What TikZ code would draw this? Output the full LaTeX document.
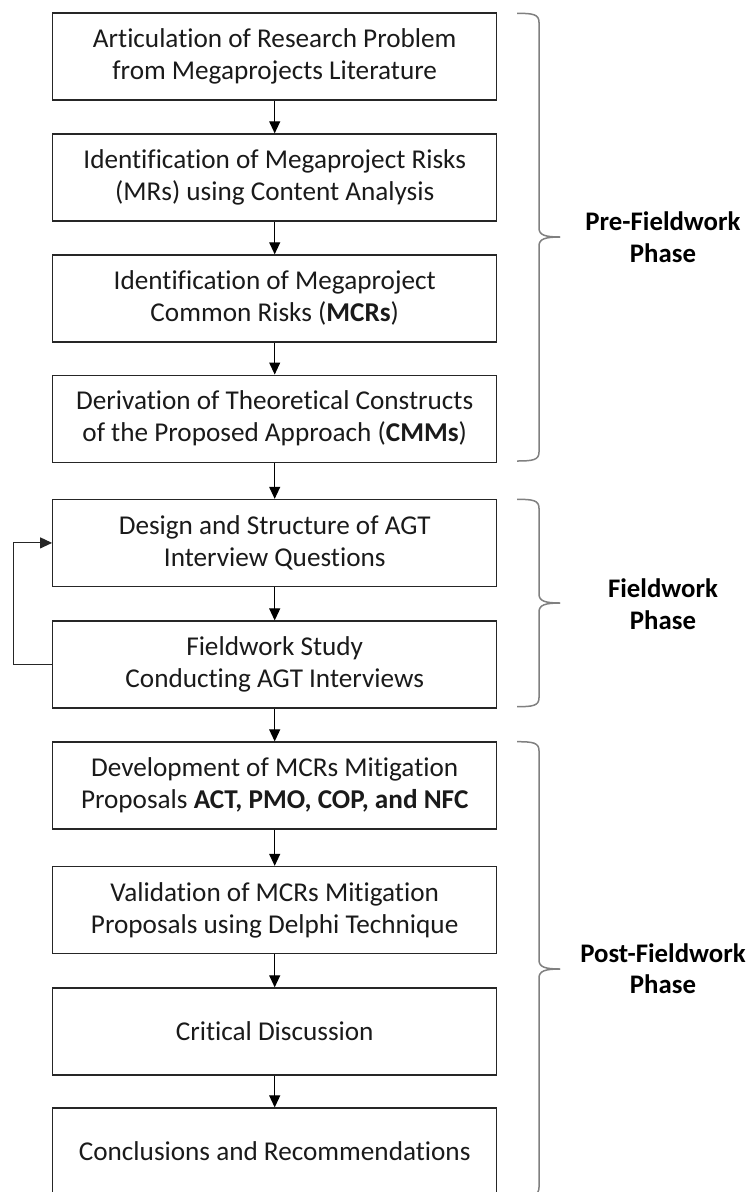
\documentclass[tikz,border=0pt]{standalone}
\usepackage{fontspec}
\setmainfont{Carlito}[Ligatures=NoCommon]
\usetikzlibrary{arrows.meta}
\definecolor{boxline}{HTML}{262626}
\definecolor{braceline}{HTML}{808080}
\definecolor{txt}{HTML}{1A1A1A}
\tikzset{
  stepbox/.style={draw=boxline, line width=1.2pt, minimum width=444pt,
    minimum height=87pt, inner sep=0pt, align=center, text=txt,
    font=\fontsize{27.2}{32}\selectfont},
  flow/.style={draw=black, line width=1.1pt,
    -{Triangle[length=12pt,width=11pt]}},
  phasebrace/.style={draw=braceline, line width=1.5pt},
  phaselabel/.style={align=center, text=black,
    font=\fontsize{26.8}{31.5}\selectfont\bfseries}
}
\begin{document}
\begin{tikzpicture}[x=1pt,y=-1pt]
\useasboundingbox (0,0) rectangle (750,1192);
\clip (0,0) rectangle (750,1192);

% process steps
\node[stepbox] (b1)  at (274.7,56.4)   {Articulation of Research Problem\\from Megaprojects Literature};
\node[stepbox] (b2)  at (274.7,177.4)  {Identification of Megaproject Risks\\(MRs) using Content Analysis};
\node[stepbox] (b3)  at (274.7,298.4)  {Identification of Megaproject\\Common Risks (\textbf{MCRs})};
\node[stepbox] (b4)  at (274.7,418.6)  {Derivation of Theoretical Constructs\\of the Proposed Approach (\textbf{CMMs})};
\node[stepbox] (b5)  at (274.7,542.9)  {Design and Structure of AGT\\Interview Questions};
\node[stepbox] (b6)  at (274.7,664.5)  {Fieldwork Study\\Conducting AGT Interviews};
\node[stepbox] (b7)  at (274.7,785.5)  {Development of MCRs Mitigation\\Proposals \textbf{ACT, PMO, COP, and NFC}};
\node[stepbox] (b8)  at (274.7,909.9)  {Validation of MCRs Mitigation\\Proposals using Delphi Technique};
\node[stepbox] (b9)  at (274.7,1031.4) {Critical Discussion};
\node[stepbox] (b10) at (274.7,1151.5) {Conclusions and Recommendations};

% sequence arrows
\foreach \a/\b in {b1/b2,b2/b3,b3/b4,b4/b5,b5/b6,b6/b7,b7/b8,b8/b9,b9/b10}
  \draw[flow] (\a.south) -- (\b.north);

% feedback loop from fieldwork back to interview design
\coordinate (loop) at (13.7,664.5);
\draw[flow, draw=boxline] (b6.west) -- (loop) |- (b5.west);

% phase braces
\newcommand{\phasebr}[3]{% top, tip, bottom
  \draw[phasebrace] (517,#1) .. controls (533,#1) and (539,#1+1) .. (539,#1+9)
    -- (539,#2-9) .. controls (539,#2-2) and (545,#2) .. (560,#2);
  \draw[phasebrace] (560,#2) .. controls (545,#2) and (539,#2+2) .. (539,#2+9)
    -- (539,#3-9) .. controls (539,#3-1) and (533,#3) .. (517,#3);
}
\phasebr{13.3}{237}{461}
\phasebr{499.3}{603}{706.7}
\phasebr{741.7}{969}{1196.3}

% phase labels
\node[phaselabel] (pre)  at (663,237)   {Pre-Fieldwork\\Phase};
\node[phaselabel] (fw)   at (663,604)   {Fieldwork\\Phase};
\node[phaselabel] (post) at (663,968.5) {Post-Fieldwork\\Phase};
\end{tikzpicture}
\end{document}
